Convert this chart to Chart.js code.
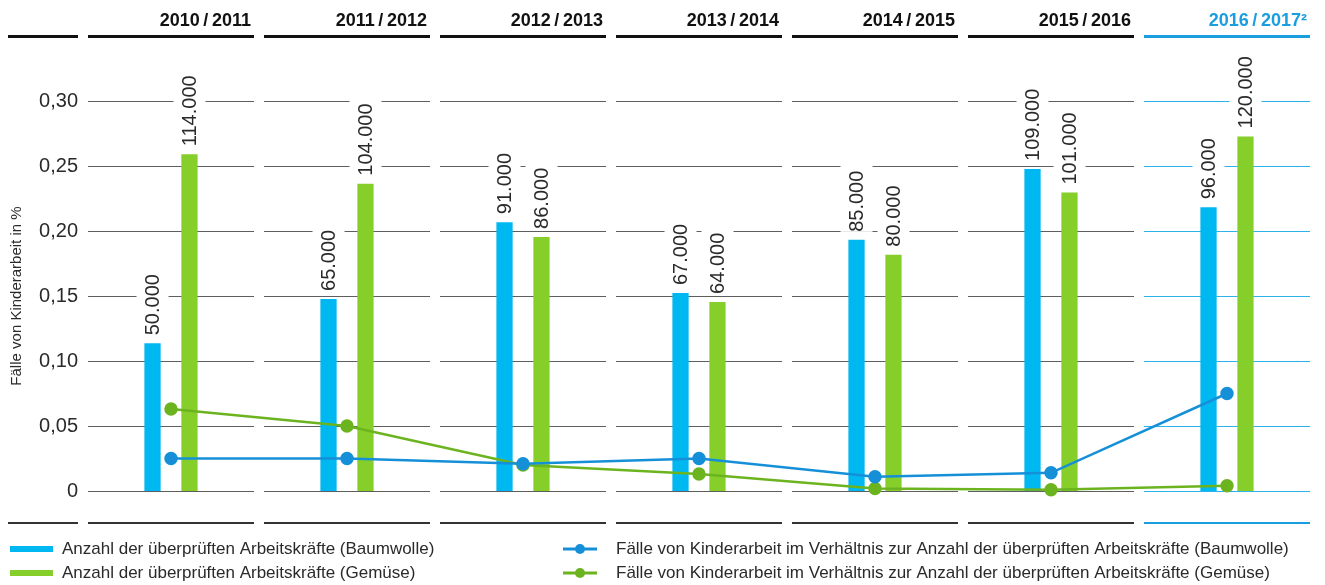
<!DOCTYPE html>
<html>
<head>
<meta charset="utf-8">
<script src="https://cdn.jsdelivr.net/npm/chart.js@4"></script>
<style>
  html, body { margin: 0; padding: 0; background: #fff; }
  #wrap { width: 1325px; height: 585px; position: relative; }
</style>
</head>
<body>
<div id="wrap"><canvas id="chart" width="1325" height="585"></canvas></div>
<script>
// --- Daten ---
const seasons = ['2010 / 2011', '2011 / 2012', '2012 / 2013', '2013 / 2014', '2014 / 2015', '2015 / 2016', '2016 / 2017²'];
const workersCotton = [50000, 65000, 91000, 67000, 85000, 109000, 96000];
const workersVeg = [114000, 104000, 86000, 64000, 80000, 101000, 120000];
const childCotton = [0.025, 0.025, 0.021, 0.025, 0.011, 0.014, 0.075];
const childVeg = [0.063, 0.050, 0.020, 0.013, 0.002, 0.001, 0.004];
const yTicks = [0, 0.05, 0.10, 0.15, 0.20, 0.25, 0.30];

const legendBars = ['Anzahl der überprüften Arbeitskräfte (Baumwolle)', 'Anzahl der überprüften Arbeitskräfte (Gemüse)'];
const legendLines = ['Fälle von Kinderarbeit im Verhältnis zur Anzahl der überprüften Arbeitskräfte (Baumwolle)',
                     'Fälle von Kinderarbeit im Verhältnis zur Anzahl der überprüften Arbeitskräfte (Gemüse)'];

const FONT = '"Liberation Sans", Arial, sans-serif';
const C = {
    barBlue: '#00b8f1',
    barGreen: '#86cf2a',
    lineBlue: '#1590d8',
    lineGreen: '#6cb41f',
    hl: '#1a9ee0',
    hlGrid: '#2bb3ea',
    grid: '#5e5e5e',
    text: '#2a2a2a'
};

const fmtNum = v => v.toLocaleString('de-DE');
const fmtPct = v => v === 0 ? '0' : v.toFixed(2).replace('.', ',');

// Spalten: Gitter, Kopfzeilen, Fußlinien
const columnDecor = {
    id: 'columnDecor',
    beforeDatasetsDraw(chart) {
        const { ctx, scales: { x, y } } = chart;
        const half = (x.getPixelForValue(1) - x.getPixelForValue(0)) / 2 - 5;
        const last = seasons.length - 1;
        ctx.save();
        ctx.lineWidth = 1;
        seasons.forEach((s, i) => {
            const c = x.getPixelForValue(i);
            ctx.strokeStyle = i === last ? C.hlGrid : C.grid;
            yTicks.forEach(t => {
                const py = Math.round(y.getPixelForValue(t)) + 0.5;
                ctx.beginPath();
                ctx.moveTo(c - half, py);
                ctx.lineTo(c + half, py);
                ctx.stroke();
            });
        });
        ctx.restore();
    },
    afterDraw(chart) {
        const { ctx, scales: { x } } = chart;
        const half = (x.getPixelForValue(1) - x.getPixelForValue(0)) / 2 - 5;
        const last = seasons.length - 1;
        ctx.save();
        // linke Spalte
        ctx.fillStyle = '#111';
        ctx.fillRect(8, 35, 70, 3);
        ctx.fillStyle = '#333';
        ctx.fillRect(8, 522, 70, 2);
        seasons.forEach((s, i) => {
            const c = x.getPixelForValue(i);
            ctx.fillStyle = i === last ? C.hl : '#111';
            ctx.fillRect(c - half, 35, half * 2, 3);
            ctx.fillStyle = i === last ? C.hl : '#333';
            ctx.fillRect(c - half, 522, half * 2, 2);
            ctx.fillStyle = i === last ? C.hl : '#111';
            ctx.font = 'bold 18px ' + FONT;
            ctx.textAlign = 'right';
            ctx.textBaseline = 'alphabetic';
            ctx.fillText(s.replace(/ \/ /, '\u2009/\u2009'), c + half - 3, 26);
        });

        // Legende
        ctx.font = '17px ' + FONT;
        ctx.textAlign = 'left';
        ctx.textBaseline = 'middle';
        const rows = [549, 573];
        [C.barBlue, C.barGreen].forEach((col, i) => {
            ctx.fillStyle = col;
            ctx.fillRect(10, rows[i] - 3, 43, 6);
            ctx.fillStyle = C.text;
            ctx.fillText(legendBars[i], 62, rows[i]);
        });
        [C.lineBlue, C.lineGreen].forEach((col, i) => {
            ctx.strokeStyle = col;
            ctx.lineWidth = 3;
            ctx.beginPath();
            ctx.moveTo(563, rows[i]);
            ctx.lineTo(597, rows[i]);
            ctx.stroke();
            ctx.fillStyle = col;
            ctx.beginPath();
            ctx.arc(580, rows[i], 5, 0, Math.PI * 2);
            ctx.fill();
            ctx.fillStyle = C.text;
            ctx.fillText(legendLines[i], 616, rows[i]);
        });
        ctx.restore();
    }
};

// senkrechte Werte über den Balken
const barLabels = {
    id: 'barLabels',
    afterDatasetsDraw(chart) {
        const { ctx } = chart;
        ctx.save();
        ctx.font = '20px ' + FONT;
        [0, 1].forEach(di => {
            const meta = chart.getDatasetMeta(di);
            const data = chart.data.datasets[di].data;
            meta.data.forEach((bar, i) => {
                const txt = fmtNum(data[i]);
                const w = ctx.measureText(txt).width;
                const bx = bar.x, by = bar.y - 8;
                ctx.fillStyle = '#fff';
                ctx.fillRect(bx - 16, by - w - 5, 32, w + 5);
                ctx.save();
                ctx.translate(bx, by);
                ctx.rotate(-Math.PI / 2);
                ctx.fillStyle = C.text;
                ctx.textAlign = 'left';
                ctx.textBaseline = 'middle';
                ctx.fillText(txt, 0, 1);
                ctx.restore();
            });
        });
        ctx.restore();
    }
};

new Chart(document.getElementById('chart'), {
    type: 'bar',
    data: {
        labels: seasons,
        datasets: [
            { type: 'bar', label: legendBars[0], data: workersCotton, backgroundColor: C.barBlue, yAxisID: 'yBars', order: 2,
              categoryPercentage: 0.42, barPercentage: 0.44 },
            { type: 'bar', label: legendBars[1], data: workersVeg, backgroundColor: C.barGreen, yAxisID: 'yBars', order: 2,
              categoryPercentage: 0.42, barPercentage: 0.44 },
            { type: 'line', label: legendLines[0], data: childCotton, borderColor: C.lineBlue, backgroundColor: C.lineBlue,
              borderWidth: 2.5, pointRadius: 5.5, pointHoverRadius: 5.5, yAxisID: 'y', order: 1, clip: false, tension: 0 },
            { type: 'line', label: legendLines[1], data: childVeg, borderColor: C.lineGreen, backgroundColor: C.lineGreen,
              borderWidth: 2.5, pointRadius: 5.5, pointHoverRadius: 5.5, yAxisID: 'y', order: 1, clip: false, tension: 0 }
        ]
    },
    options: {
        responsive: false,
        animation: false,
        layout: { padding: { top: 101, bottom: 94, left: 0, right: 10 } },
        plugins: { legend: { display: false }, tooltip: { enabled: false } },
        scales: {
            x: { display: false, offset: true },
            y: {
                position: 'left',
                min: 0, max: 0.30,
                afterFit(scale) { scale.width = 83; },
                afterBuildTicks(scale) { scale.ticks = yTicks.map(v => ({ value: v })); },
                grid: { display: false, drawTicks: false },
                border: { display: false },
                ticks: { padding: 5, color: C.text, font: { family: FONT, size: 20 }, callback: v => fmtPct(v) },
                title: { display: true, text: 'Fälle von Kinderarbeit in %', color: C.text,
                         font: { family: FONT, size: 15 }, padding: { top: 8, bottom: 0 } }
            },
            yBars: { display: false, min: 0, max: 132000 }
        }
    },
    plugins: [columnDecor, barLabels]
});
</script>
</body>
</html>
